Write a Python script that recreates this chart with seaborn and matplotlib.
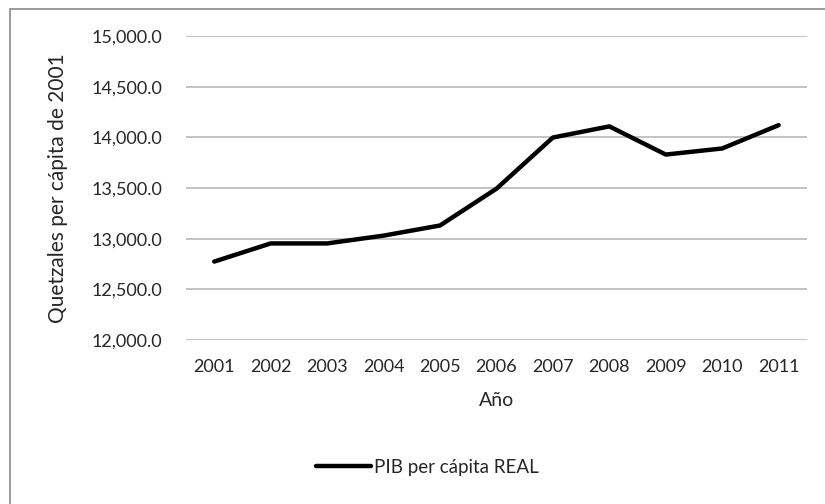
import matplotlib
matplotlib.use("Agg")
import matplotlib.pyplot as plt
import matplotlib.ticker as mticker
from matplotlib.patches import Rectangle
import pandas as pd
import seaborn as sns

# Data
years = ["2001", "2002", "2003", "2004", "2005", "2006",
         "2007", "2008", "2009", "2010", "2011"]
pib_real = [12774, 12953, 12953, 13030, 13130, 13493,
            13998, 14108, 13830, 13890, 14120]
y_ticks = [12000, 12500, 13000, 13500, 14000, 14500, 15000]

series_name = "PIB per cápita REAL"

sns.set_theme(style="white")
plt.rcParams["font.family"] = ["Lato", "DejaVu Sans"]

df = pd.DataFrame({"Año": years, "valor": pib_real, "serie": series_name})

fig = plt.figure(figsize=(8.25, 5.04), dpi=100)
ax = fig.add_axes([0.2255, 0.3254, 0.7525, 0.6032])

sns.lineplot(data=df, x="Año", y="valor", hue="serie", palette=["black"],
             linewidth=3.2, sort=False, ax=ax, legend=True)

ax.set_xlim(-0.5, len(years) - 0.5)
ax.set_ylim(y_ticks[0], y_ticks[-1])
ax.set_yticks(y_ticks)
ax.yaxis.set_major_formatter(mticker.StrMethodFormatter("{x:,.1f}"))
ax.grid(axis="y", color="#b3b3b3", linewidth=1.1)
ax.grid(axis="x", visible=False)
ax.set_axisbelow(True)
for s in ax.spines.values():
    s.set_visible(False)
ax.tick_params(axis="both", length=0, labelsize=13, colors="#262626")
ax.tick_params(axis="y", pad=17)
ax.tick_params(axis="x", pad=14)

ax.set_xlabel("Año", fontsize=14, color="#262626", labelpad=12)
ax.set_ylabel("Quetzales per cápita de 2001", fontsize=15,
              color="#262626", labelpad=17)

handles, labels = ax.get_legend_handles_labels()
ax.legend(handles, labels, loc="center", bbox_to_anchor=(0.518, 0.073),
          bbox_transform=fig.transFigure, frameon=False, fontsize=13.5,
          handlelength=2.9, handletextpad=0.15)

# Chart-area border (cropped at right and bottom in the original)
fig.patches.append(Rectangle((10 / 825, -0.1), 1.2, 1.1 - 9 / 504,
                             transform=fig.transFigure, fill=False,
                             edgecolor="#8a8a8a", linewidth=1.2))

fig.savefig("out.png", dpi=100)
